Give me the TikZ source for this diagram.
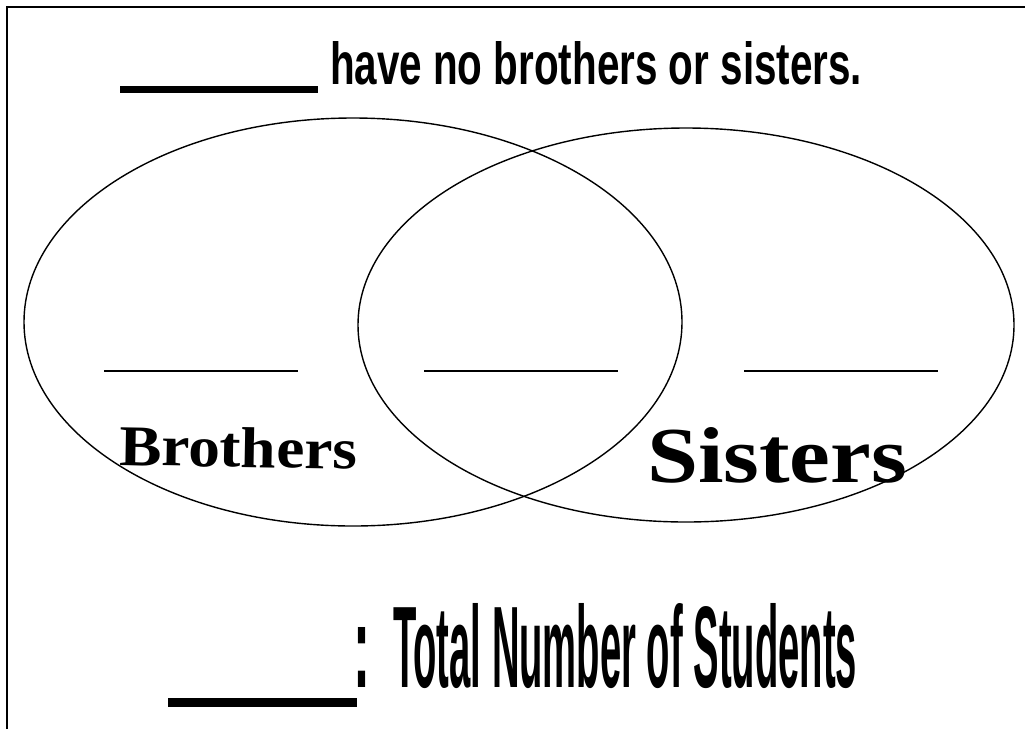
\documentclass[tikz,border=0pt]{standalone}
\usepackage{fontspec}
\setmainfont{Liberation Sans}
\newfontfamily\decofont{Liberation Serif}
\usepackage{graphicx}
\usetikzlibrary{shapes.geometric}
\tikzset{
  setring/.style={ellipse, draw, line width=1.4pt, inner sep=0pt},
  blankline/.style={line width=1.8pt},
  txt/.style={anchor=base west, inner sep=0pt, outer sep=0pt},
  frameline/.style={line width=2.2pt}
}
\begin{document}
\begin{tikzpicture}[x=1pt,y=-1pt]
\useasboundingbox (0,0) rectangle (1025,729);
% frame (only left and top edges visible)
\draw[frameline] (7,729) -- (7,7) -- (1025,7);
% title
\fill (120,86) rectangle (318,93);
\node[txt] (title) at (330,84) {\resizebox{532pt}{43pt}{\bfseries have no brothers or sisters.}};
% sets
\node[setring, minimum width=658pt, minimum height=408pt] (brothersset) at (353,322) {};
\node[setring, minimum width=656pt, minimum height=394pt] (sistersset) at (686,325) {};
% blanks
\draw[blankline] (104,371) -- (298,371);
\draw[blankline] (424,371) -- (618,371);
\draw[blankline] (744,371) -- (938,371);
% set labels
\node[txt, rotate=-1] (brotherslabel) at (119,465) {\resizebox{238pt}{40pt}{\decofont\bfseries Brothers}};
\node[txt] (sisterslabel) at (647,482) {\resizebox{260pt}{55pt}{\decofont\bfseries Sisters}};
% total
\fill (168,698) rectangle (357,707);
\node[txt] (colon) at (353,687) {\resizebox{17pt}{60pt}{\bfseries :}};
\node[txt] (total) at (393,687) {\resizebox{464pt}{84pt}{\bfseries Total Number of Students}};
\end{tikzpicture}
\end{document}
